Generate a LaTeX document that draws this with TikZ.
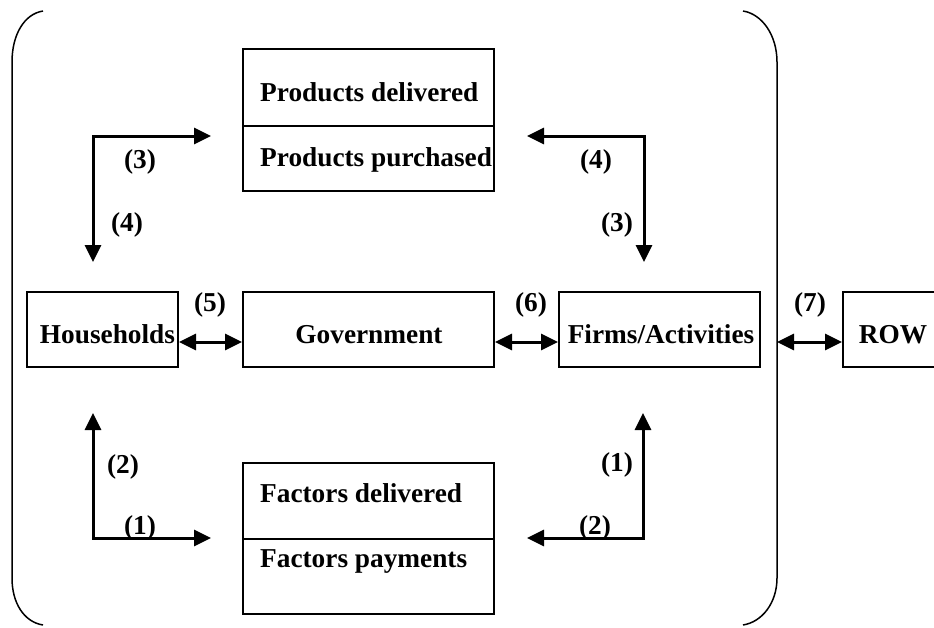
\documentclass[tikz,border=0pt]{standalone}
\usepackage{fontspec}
\setmainfont{Liberation Serif}
\usetikzlibrary{arrows.meta}
\begin{document}
\begin{tikzpicture}[x=1pt,y=-1pt,
  box/.style={draw, line width=2pt, rectangle, inner sep=0pt},
  txt/.style={inner sep=0pt, font=\fontsize{27.3}{32}\selectfont\bfseries},
  lbl/.style={inner sep=0pt, font=\fontsize{27.3}{32}\selectfont\bfseries},
  flow/.style={line width=3pt, {Triangle[length=17pt,width=16pt]}-{Triangle[length=17pt,width=16pt]}},
  brk/.style={line width=1.5pt}]
\useasboundingbox (0,0) rectangle (934,627);
\clip (0,0) rectangle (934,627);
% brackets
\draw[brk] (43,11) .. controls (24,14) and (12,35) .. (12,62) -- (12,578) .. controls (12,603) and (24,622) .. (43,625);
\draw[brk] (743,11) .. controls (762,14) and (777,35) .. (777,62) -- (777,578) .. controls (777,603) and (762,622) .. (743,625);
\coordinate (brR) at (777,342);
% boxes
\node[box, minimum width=251pt, minimum height=77pt] (pd) at (368.5,87.5) {};
\node[box, minimum width=251pt, minimum height=65pt] (pp) at (368.5,158.5) {};
\node[box, minimum width=251pt, minimum height=76pt] (fd) at (368.5,501) {};
\node[box, minimum width=251pt, minimum height=75pt] (fp) at (368.5,576.5) {};
\node[box, minimum width=151pt, minimum height=75pt] (hh) at (102.5,329.5) {};
\node[box, minimum width=251pt, minimum height=75pt] (gov) at (368.5,329.5) {};
\node[box, minimum width=201pt, minimum height=75pt] (firms) at (659.5,329.5) {};
\node[box, minimum width=130pt, minimum height=75pt] (row) at (908,329.5) {};
% texts
\node[txt, anchor=base west] (tpd) at (260,101.7) {Products delivered};
\node[txt, anchor=base west] (tpp) at (260,166.7) {Products purchased};
\node[txt, anchor=base west] (tfd) at (260,502.7) {Factors delivered};
\node[txt, anchor=base west] (tfp) at (260,567) {Factors payments};
\node[txt, anchor=base] (thh) at (107.5,343.3) {Households};
\node[txt, anchor=base] (tgov) at (369,343.3) {Government};
\node[txt, anchor=base] (tfirms) at (661,343.3) {Firms/Activities};
\node[txt, anchor=base] (trow) at (893,343.3) {ROW};
% connectors
\coordinate (ay) at (0,342);
\draw[flow] (hh.east |- ay) -- (gov.west |- ay);
\draw[flow] (gov.east |- ay) -- (firms.west |- ay);
\draw[flow] (brR) -- (row.west |- ay);
\coordinate (lt1) at (211,136); \coordinate (ltc) at (93,136); \coordinate (lt2) at (93,262);
\coordinate (rt1) at (527,136); \coordinate (rtc) at (644,136); \coordinate (rt2) at (644,262);
\coordinate (lb1) at (93,413); \coordinate (lbc) at (93,538); \coordinate (lb2) at (211,538);
\coordinate (rb1) at (643,413); \coordinate (rbc) at (643,538); \coordinate (rb2) at (527,538);
\draw[flow] (lt1) -- (ltc) -- (lt2);
\draw[flow] (rt1) -- (rtc) -- (rt2);
\draw[flow] (lb1) -- (lbc) -- (lb2);
\draw[flow] (rb1) -- (rbc) -- (rb2);
% labels
\node[lbl] (l3a) at (140,162) {(3)};
\node[lbl] (l4a) at (127,225) {(4)};
\node[lbl] (l4b) at (596,162) {(4)};
\node[lbl] (l3b) at (617,225) {(3)};
\node[lbl] (l5) at (210,305) {(5)};
\node[lbl] (l6) at (531,305) {(6)};
\node[lbl] (l7) at (810,305) {(7)};
\node[lbl] (l2a) at (123,467) {(2)};
\node[lbl] (l1a) at (140,528) {(1)};
\node[lbl] (l1b) at (617,465) {(1)};
\node[lbl] (l2b) at (595,528) {(2)};
\end{tikzpicture}
\end{document}
